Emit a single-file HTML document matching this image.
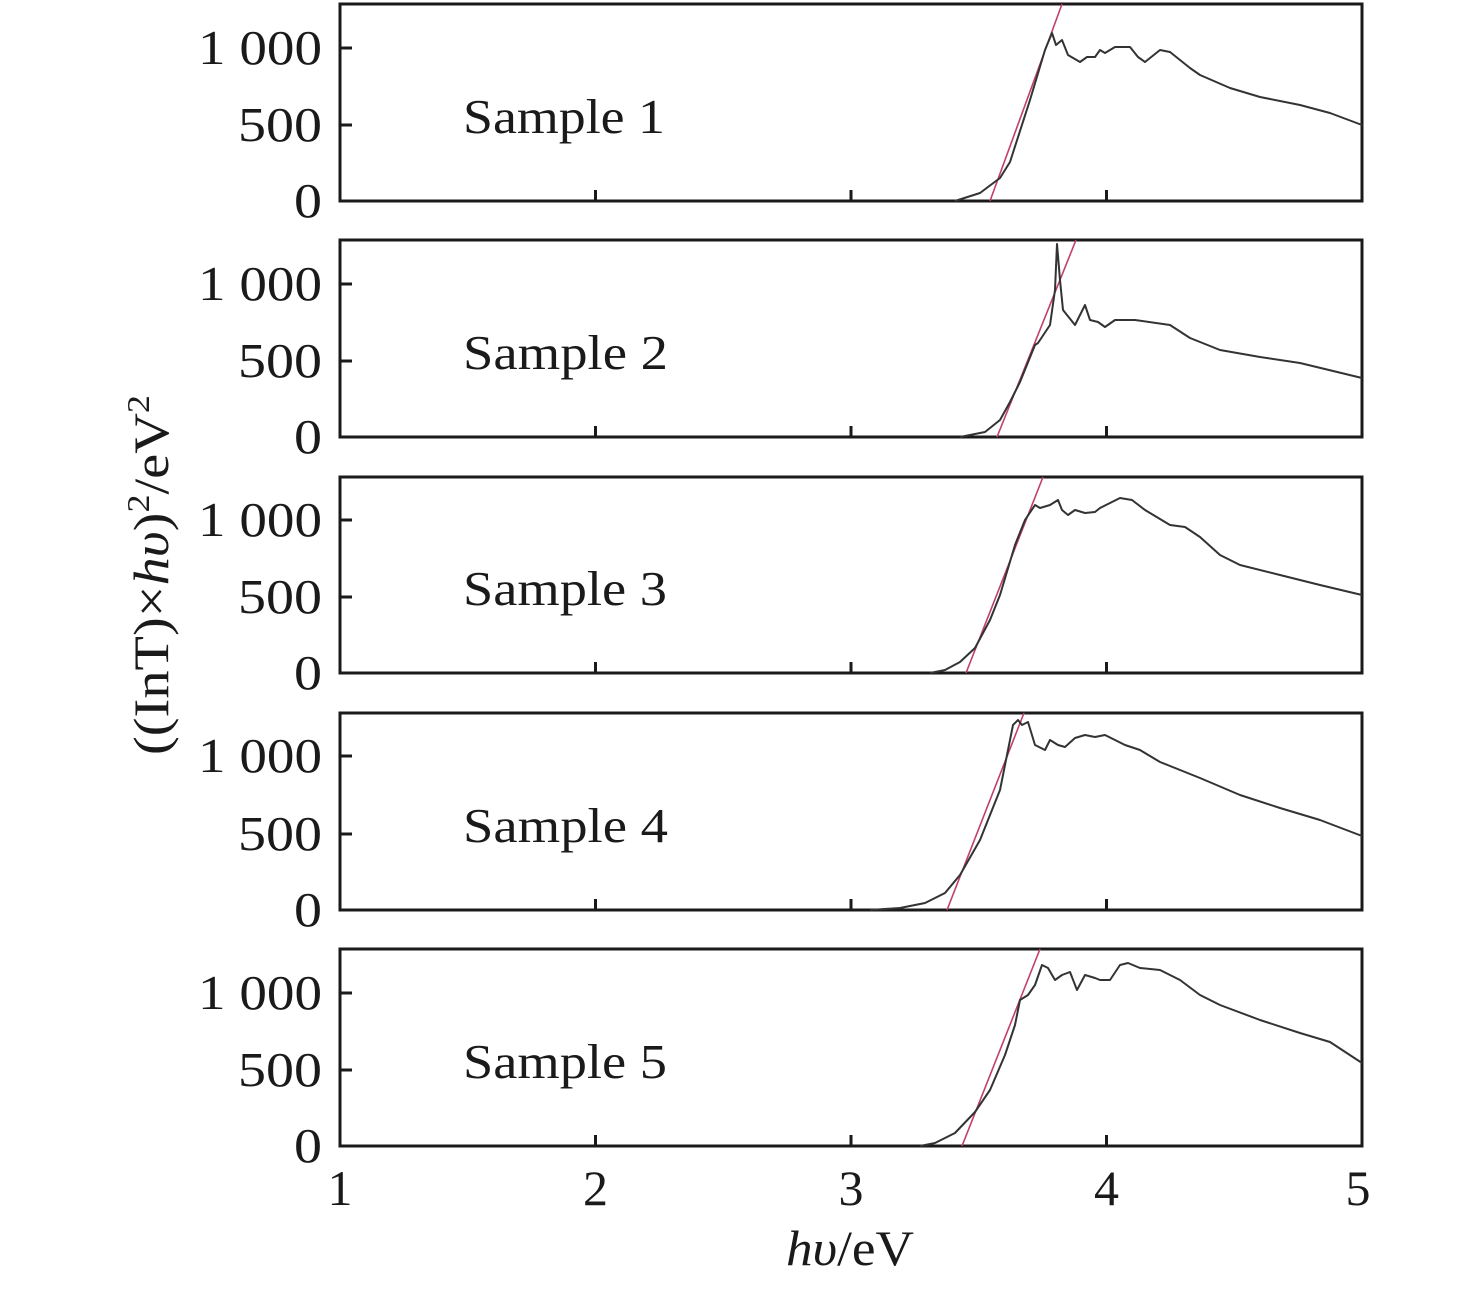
<!DOCTYPE html>
<html><head><meta charset="utf-8"><style>html,body{margin:0;padding:0;background:#fff}svg{display:block}</style></head>
<body>
<svg width="1476" height="1290" viewBox="0 0 1476 1290" xmlns="http://www.w3.org/2000/svg" font-family="Liberation Serif, serif" fill="#1a1a1a">
<g fill="none" stroke="#1a1a1a" stroke-width="3">
<rect x="340" y="4" width="1022" height="197"/>
<rect x="340" y="240" width="1022" height="197"/>
<rect x="340" y="477" width="1022" height="196"/>
<rect x="340" y="713" width="1022" height="197"/>
<rect x="340" y="949" width="1022" height="197"/>
<path d="M340 48h12M340 125h12M595.5 201v-11M851 201v-11M1106.5 201v-11
M340 284h12M340 361h12M595.5 437v-11M851 437v-11M1106.5 437v-11
M340 520h12M340 597h12M595.5 673v-11M851 673v-11M1106.5 673v-11
M340 756h12M340 834h12M595.5 910v-11M851 910v-11M1106.5 910v-11
M340 993h12M340 1070h12M595.5 1146v-11M851 1146v-11M1106.5 1146v-11"/>
</g>
<g fill="none" stroke="#c0406a" stroke-width="1.6">
<path d="M990 201L1062 4"/>
<path d="M997 437L1076 240"/>
<path d="M966 673L1043 477"/>
<path d="M947 910L1024 713"/>
<path d="M962 1146L1040 949"/>
</g>
<g fill="none" stroke="#333" stroke-width="2" stroke-linejoin="round">
<path d="M955 201L980 193L1000 178L1010 162L1030 100L1045 50L1052 33L1056 45L1062 40L1068 55L1080 62L1087 57L1095 57L1100 50L1105 53L1115 47L1130 47L1138 57L1145 62L1160 50L1170 52L1190 68L1200 75L1230 88L1260 97L1300 105L1330 113L1362 125"/>
<path d="M960 437L985 432L1000 420L1010 402L1020 382L1035 345L1038 343L1050 325L1055 290L1057 244L1060 280L1063 310L1075 325L1085 305L1090 320L1098 322L1105 327L1115 320L1135 320L1170 325L1190 338L1220 350L1260 357L1300 363L1362 378"/>
<path d="M930 673L945 670L960 662L975 648L990 620L1000 595L1015 545L1025 520L1035 505L1040 508L1050 505L1058 500L1062 510L1068 515L1075 510L1085 513L1095 512L1100 508L1110 503L1120 498L1132 500L1145 510L1170 525L1185 527L1200 537L1220 555L1240 565L1280 575L1320 585L1362 595"/>
<path d="M870 910L900 908L925 903L945 893L960 875L980 840L1000 790L1013 725L1018 720L1022 725L1028 722L1035 745L1045 750L1050 740L1058 745L1065 747L1075 738L1085 735L1095 737L1105 735L1115 740L1125 745L1140 750L1160 762L1200 778L1240 795L1280 808L1320 820L1362 836"/>
<path d="M920 1146L935 1143L955 1133L975 1112L990 1090L1005 1055L1015 1025L1020 1000L1028 995L1035 985L1042 965L1048 968L1055 980L1062 975L1070 972L1077 990L1085 975L1095 978L1100 980L1110 980L1120 965L1128 963L1140 968L1160 970L1180 980L1200 995L1220 1005L1260 1020L1300 1033L1330 1042L1362 1063"/>
</g>
<g font-size="49" text-anchor="end">
<text x="322" y="64" textLength="124" lengthAdjust="spacingAndGlyphs">1 000</text><text x="322" y="141" textLength="84" lengthAdjust="spacingAndGlyphs">500</text><text x="322" y="217" textLength="28" lengthAdjust="spacingAndGlyphs">0</text>
<text x="322" y="300" textLength="124" lengthAdjust="spacingAndGlyphs">1 000</text><text x="322" y="377" textLength="84" lengthAdjust="spacingAndGlyphs">500</text><text x="322" y="453" textLength="28" lengthAdjust="spacingAndGlyphs">0</text>
<text x="322" y="536" textLength="124" lengthAdjust="spacingAndGlyphs">1 000</text><text x="322" y="613" textLength="84" lengthAdjust="spacingAndGlyphs">500</text><text x="322" y="689" textLength="28" lengthAdjust="spacingAndGlyphs">0</text>
<text x="322" y="772" textLength="124" lengthAdjust="spacingAndGlyphs">1 000</text><text x="322" y="850" textLength="84" lengthAdjust="spacingAndGlyphs">500</text><text x="322" y="926" textLength="28" lengthAdjust="spacingAndGlyphs">0</text>
<text x="322" y="1009" textLength="124" lengthAdjust="spacingAndGlyphs">1 000</text><text x="322" y="1086" textLength="84" lengthAdjust="spacingAndGlyphs">500</text><text x="322" y="1162" textLength="28" lengthAdjust="spacingAndGlyphs">0</text>
</g>
<g font-size="49">
<text x="463" y="133" textLength="202" lengthAdjust="spacingAndGlyphs">Sample 1</text>
<text x="463" y="369" textLength="205" lengthAdjust="spacingAndGlyphs">Sample 2</text>
<text x="463" y="605" textLength="204" lengthAdjust="spacingAndGlyphs">Sample 3</text>
<text x="463" y="842" textLength="205" lengthAdjust="spacingAndGlyphs">Sample 4</text>
<text x="463" y="1078" textLength="204" lengthAdjust="spacingAndGlyphs">Sample 5</text>
</g>
<g font-size="50" text-anchor="middle">
<text x="340" y="1205">1</text><text x="595.5" y="1205">2</text><text x="851" y="1205">3</text><text x="1106.5" y="1205">4</text><text x="1358" y="1205">5</text>
<text x="850" y="1265" textLength="128" lengthAdjust="spacingAndGlyphs"><tspan font-style="italic">hυ</tspan>/eV</text>
</g>
<text font-size="50" text-anchor="middle" transform="translate(168,575) rotate(-90)" textLength="360" lengthAdjust="spacingAndGlyphs">((InT)×<tspan font-style="italic">hυ</tspan>)<tspan font-size="32" dy="-19">2</tspan><tspan dy="19">/eV</tspan><tspan font-size="32" dy="-19">2</tspan></text>
</svg>
</body></html>
